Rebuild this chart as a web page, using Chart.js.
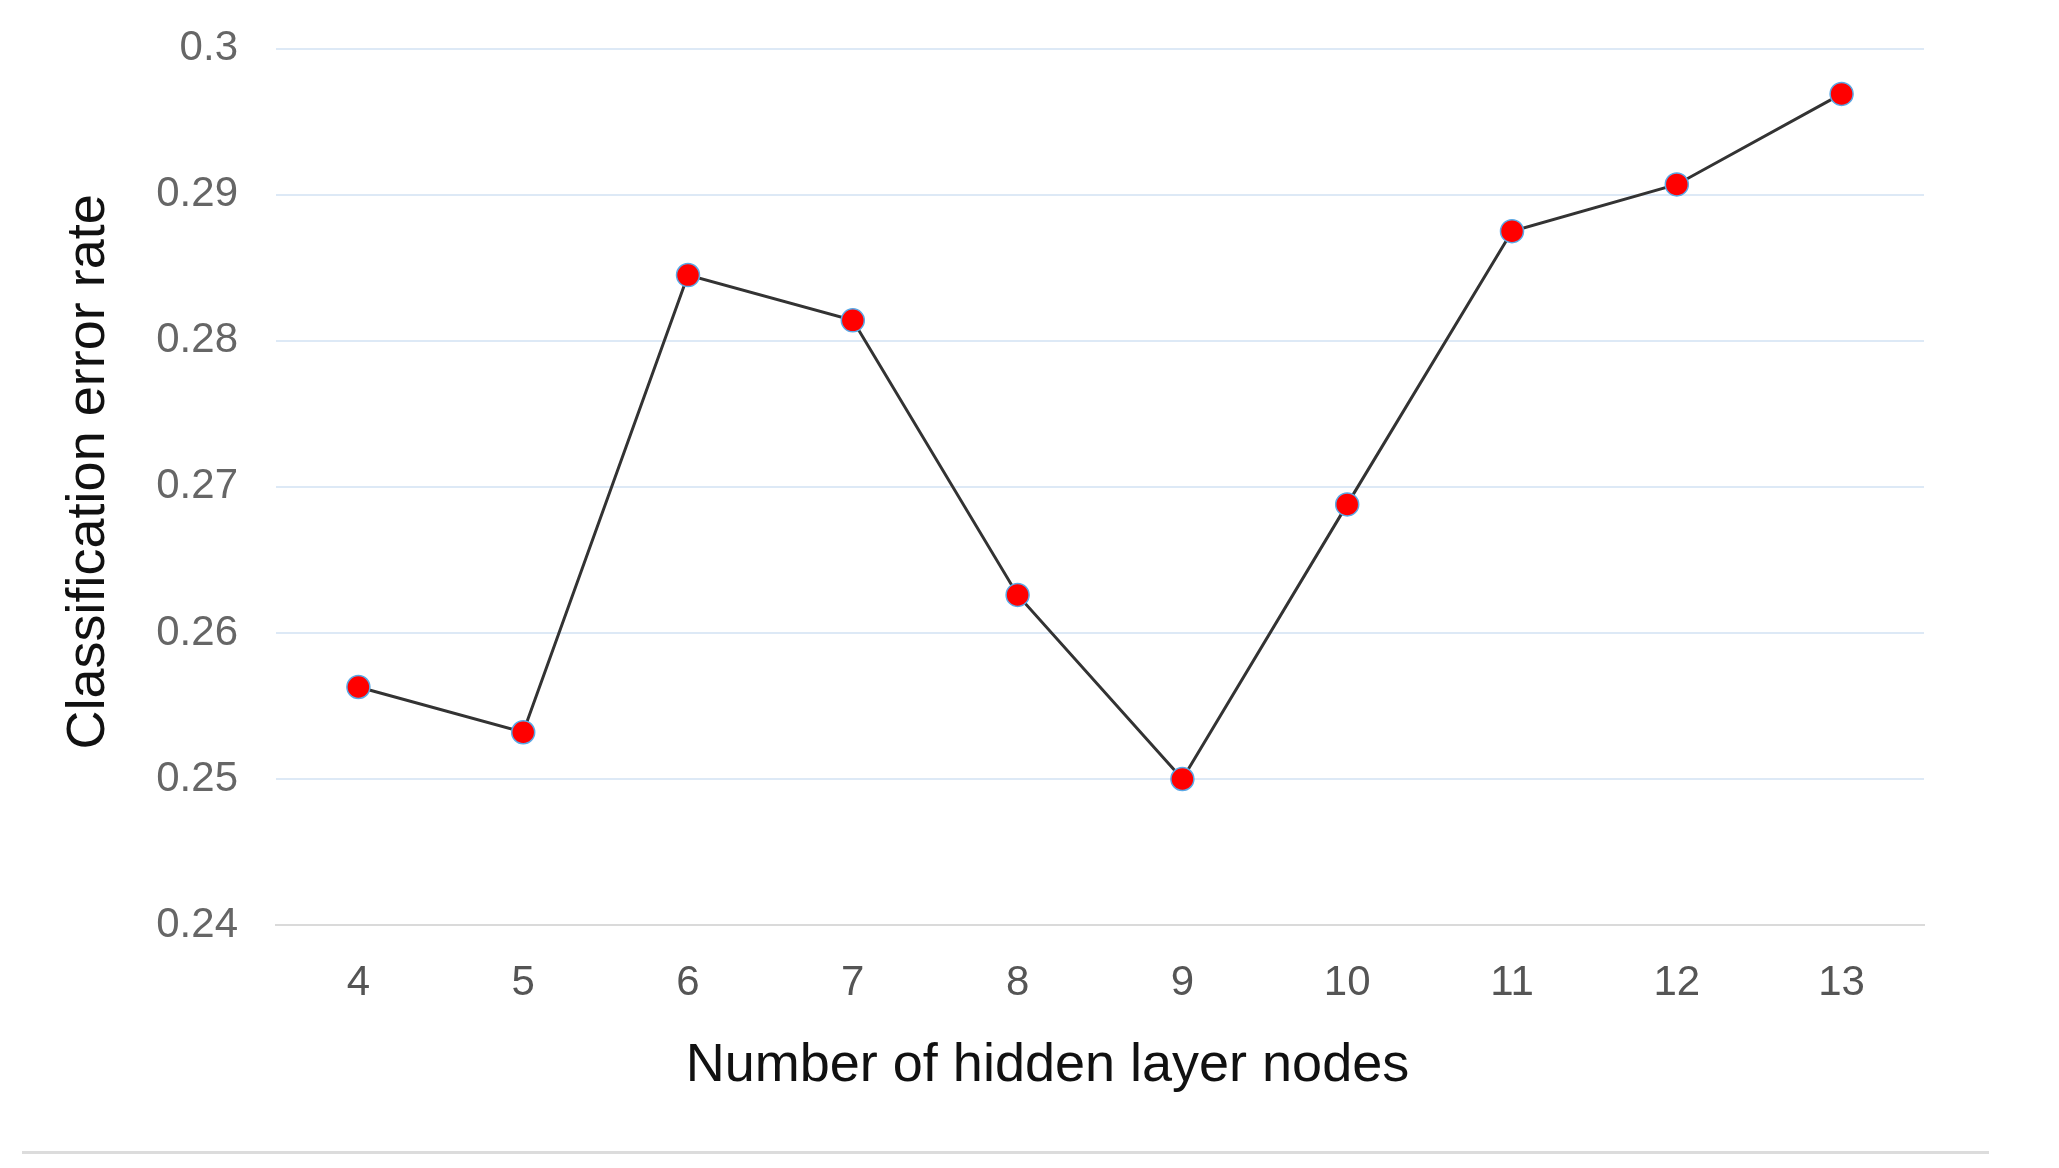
<!DOCTYPE html>
<html>
<head>
<meta charset="utf-8">
<script src="https://cdn.jsdelivr.net/npm/chart.js@4/dist/chart.umd.min.js"></script>
<style>
  html, body { margin: 0; padding: 0; background: #fff; }
  #wrap { position: relative; width: 2059px; height: 1168px; }
  #rule { position: absolute; left: 22px; top: 1151px; width: 1967px; height: 3px; background: #dcdcdc; }
</style>
</head>
<body>
<div id="wrap">
  <canvas id="lineChart" width="2059" height="1168"></canvas>
  <div id="rule"></div>
</div>
<script>
const nodeCounts = ['4', '5', '6', '7', '8', '9', '10', '11', '12', '13'];
const errorRates = [0.2563, 0.2532, 0.2845, 0.2814, 0.2626, 0.2500, 0.2688, 0.2875, 0.2907, 0.2969];
const yMin = 0.24;
const yMax = 0.30;
const yStep = 0.01;

const fontFamily = '"Liberation Sans", Arial, sans-serif';

const ctx = document.getElementById('lineChart').getContext('2d');
new Chart(ctx, {
  type: 'line',
  data: {
    labels: nodeCounts,
    datasets: [{
      label: 'Classification error rate',
      data: errorRates,
      borderColor: '#333',
      borderWidth: 3,
      pointBackgroundColor: '#ff0000',
      pointBorderColor: '#5aa9e6',
      pointBorderWidth: 1.5,
      pointRadius: 11.5,
      tension: 0
    }]
  },
  options: {
    responsive: false,
    animation: false,
    layout: {
      autoPadding: false,
      padding: { top: 48.6, right: 135, bottom: 77.1, left: 0 }
    },
    plugins: {
      legend: { display: false },
      tooltip: { enabled: false }
    },
    scales: {
      x: {
        offset: true,
        grid: { display: false, drawTicks: false },
        border: { display: true, color: '#dadada', width: 2 },
        ticks: {
          padding: 39.7,
          color: '#555',
          font: { family: fontFamily, size: 42, lineHeight: 0.9 }
        },
        title: {
          display: true,
          // trailing spaces nudge the centred title left, as in the source
          text: 'Number of hidden layer nodes       ',
          color: '#111',
          padding: { top: 0, bottom: 0 },
          font: { family: fontFamily, size: 54, lineHeight: 0.9 }
        }
      },
      y: {
        min: yMin,
        max: yMax,
        afterFit: (scale) => {
          scale.width = 276;
          scale.paddingTop = 0;
          scale.paddingBottom = 0;
        },
        grid: { color: '#dde9f6', lineWidth: 2, drawTicks: false },
        border: { display: false },
        ticks: {
          stepSize: yStep,
          padding: 38,
          color: '#666',
          font: { family: fontFamily, size: 42 },
          callback: (value) => String(+value.toFixed(2))
        },
        title: {
          display: true,
          text: '  Classification error rate',
          color: '#111',
          padding: { top: 57, bottom: 0 },
          font: { family: fontFamily, size: 54 }
        }
      }
    }
  }
});
</script>
</body>
</html>
